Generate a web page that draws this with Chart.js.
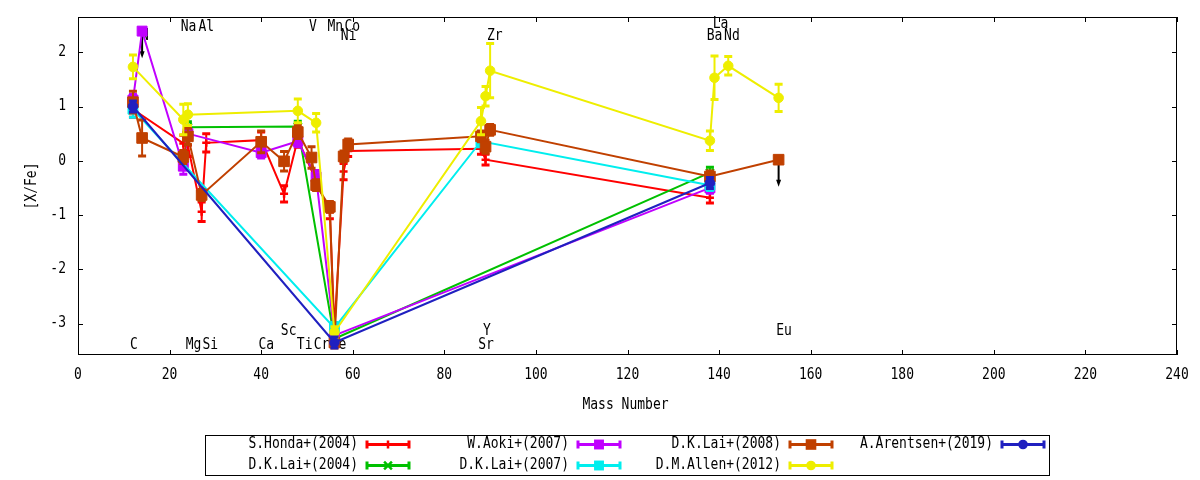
<!DOCTYPE html>
<html>
<head>
<meta charset="utf-8">
<title>[X/Fe] vs Mass Number</title>
<script src="https://cdn.jsdelivr.net/npm/chart.js@4.4.1/dist/chart.umd.min.js"></script>
<style>
  html, body { margin: 0; padding: 0; background: #fff; }
  #wrap { width: 1200px; height: 480px; }
</style>
</head>
<body>
<div id="wrap"><canvas id="abundChart" width="1200" height="480"></canvas></div>
<script>
// axis ticks
const X_TICKS = [0, 20, 40, 60, 80, 100, 120, 140, 160, 180, 200, 220, 240];
const Y_TICKS = [-3, -2, -1, 0, 1, 2];

// element names written in the plot (mass number, [X/Fe])
const ELEM_NAMES = ["C", "N", "Na", "Al", "V", "Mn", "Co", "Ni", "Zr", "La", "Ba", "Nd",
                    "Mg", "Si", "Ca", "Sc", "Ti", "Cr", "Fe", "Sr", "Y", "Eu"];
const ELEM_X = [12.2, 14.6, 24.15, 28.0, 51.3, 56.2, 59.9, 59.1, 91.0, 140.3, 139.0, 142.8,
                25.25, 28.9, 41.1, 46.0, 49.5, 53.2, 56.9, 89.1, 89.3, 154.2];
const ELEM_Y = [-3.39, 2.29, 2.47, 2.47, 2.47, 2.47, 2.47, 2.29, 2.29, 2.52, 2.29, 2.29,
                -3.39, -3.39, -3.39, -3.14, -3.39, -3.39, -3.39, -3.39, -3.14, -3.14];

// S.Honda+(2004)
const HONDA_MASS = [12, 23, 24, 27, 28, 40, 45, 48, 55, 56, 58, 59, 88, 89, 138];
const HONDA_XFE  = [0.95, 0.32, 0.28, -0.94, 0.33, 0.38, -0.61, 0.40, -0.95, -3.10, -0.20, 0.18, 0.22, 0.02, -0.68];
const HONDA_ERR  = [0.15, 0.15, 0.20, 0.18, 0.17, 0.15, 0.15, 0.15, 0.12, 0.10, 0.15, 0.10, 0.10, 0.10, 0.10];

// D.K.Lai+(2004)
const LAI04_MASS = [24, 48, 56, 138];
const LAI04_XFE  = [0.62, 0.63, -3.28, -0.22];
const LAI04_ERR  = [0.10, 0.10, 0.10, 0.10];

// W.Aoki+(2007)
const AOKI_MASS  = [12, 14, 23, 24, 40, 48, 52, 56, 138];
const AOKI_XFE   = [1.12, 2.39, -0.10, 0.50, 0.15, 0.36, -0.30, -3.22, -0.50];
const AOKI_ERR   = [0.10, 0, 0.15, 0.10, 0.10, 0.10, 0.12, 0.10, 0.10];
const AOKI_UPPER = [0, 1, 0, 0, 0, 0, 0, 0, 0];

// D.K.Lai+(2007)
const LAI07_MASS = [12, 56, 88, 138];
const LAI07_XFE  = [0.95, -3.08, 0.36, -0.45];
const LAI07_ERR  = [0.15, 0.10, 0.10, 0.10];

// D.K.Lai+(2008)
const LAI08_MASS  = [12, 14, 23, 24, 27, 40, 45, 48, 51, 52, 55, 56, 58, 59, 88, 89, 90, 138, 153];
const LAI08_XFE   = [1.08, 0.42, 0.07, 0.45, -0.63, 0.35, -0.01, 0.53, 0.06, -0.45, -0.85, -3.35, 0.08, 0.30, 0.45, 0.26, 0.57, -0.29, 0.02];
const LAI08_ERR   = [0.20, 0.33, 0.12, 0.15, 0.10, 0.20, 0.18, 0.12, 0.20, 0.10, 0.10, 0.10, 0.10, 0.10, 0.10, 0.12, 0.10, 0.10, 0];
const LAI08_UPPER = [0, 0, 0, 0, 0, 0, 0, 0, 0, 0, 0, 0, 0, 0, 0, 0, 0, 0, 1];

// D.M.Allen+(2012)
const ALLEN_MASS = [12, 23, 24, 48, 52, 56, 88, 89, 90, 138, 139, 142, 153];
const ALLEN_XFE  = [1.73, 0.76, 0.85, 0.92, 0.70, -3.16, 0.73, 1.19, 1.66, 0.37, 1.53, 1.75, 1.16];
const ALLEN_ERR  = [0.22, 0.28, 0.20, 0.22, 0.17, 0.10, 0.25, 0.18, 0.50, 0.18, 0.40, 0.17, 0.25];

// A.Arentsen+(2019)
const ARENTSEN_MASS = [12, 56, 138];
const ARENTSEN_XFE  = [1.00, -3.35, -0.41];
const ARENTSEN_ERR  = [0.10, 0.10, 0.10];

const TEXT_FONT = "13px 'DejaVu Sans Mono', monospace";
const TEXT_STRETCH = 1.15; // gnuplot's font is a bit taller than DejaVu Mono
const CAP = 4;             // half width of the error bar caps (px)
const ARROW_DROP = 0.5;    // length of the upper limit arrows (dex)

function series(label, mass, xfe, err, upper, color, style, radius) {
  const isCross = style === "cross" || style === "crossRot";
  return {
    label: label,
    data: mass.map((m, i) => ({ x: m, y: xfe[i] })),
    errors: err,
    upper: upper || [],
    showLine: true,
    borderColor: color,
    backgroundColor: color,
    borderWidth: 2,
    tension: 0,
    pointStyle: style,
    pointRadius: radius,
    pointHoverRadius: radius,
    pointBorderWidth: isCross ? 2.5 : 1,
    pointBorderColor: color,
    pointBackgroundColor: color
  };
}

const datasets = [
  series("S.Honda+(2004)", HONDA_MASS, HONDA_XFE, HONDA_ERR, null, "#ff0000", "cross", 4),
  series("D.K.Lai+(2004)", LAI04_MASS, LAI04_XFE, LAI04_ERR, null, "#00c000", "crossRot", 5.5),
  series("W.Aoki+(2007)", AOKI_MASS, AOKI_XFE, AOKI_ERR, AOKI_UPPER, "#c000ff", "rect", 7),
  series("D.K.Lai+(2007)", LAI07_MASS, LAI07_XFE, LAI07_ERR, null, "#00eeee", "rect", 7),
  series("D.K.Lai+(2008)", LAI08_MASS, LAI08_XFE, LAI08_ERR, LAI08_UPPER, "#c04000", "rect", 7.5),
  series("D.M.Allen+(2012)", ALLEN_MASS, ALLEN_XFE, ALLEN_ERR, null, "#eeee00", "circle", 4.8),
  series("A.Arentsen+(2019)", ARENTSEN_MASS, ARENTSEN_XFE, ARENTSEN_ERR, null, "#2020c0", "circle", 4.8)
];
// later series are drawn on top, like gnuplot does
datasets.forEach((d, i) => { d.order = datasets.length - i; });

function tallText(ctx, text, x, y) {
  ctx.save();
  ctx.translate(x, y);
  ctx.scale(1, TEXT_STRETCH);
  ctx.fillText(text, 0, 0);
  ctx.restore();
}

function drawMarker(ctx, style, r, x, y) {
  ctx.beginPath();
  if (style === "circle") {
    ctx.arc(x, y, r, 0, Math.PI * 2);
    ctx.fill();
  } else if (style === "rect") {
    const s = r / Math.SQRT2;
    ctx.fillRect(x - s, y - s, 2 * s, 2 * s);
  } else if (style === "cross") {
    ctx.moveTo(x - r, y); ctx.lineTo(x + r, y);
    ctx.moveTo(x, y - r); ctx.lineTo(x, y + r);
    ctx.stroke();
  } else if (style === "crossRot") {
    const s = r / Math.SQRT2;
    ctx.moveTo(x - s, y - s); ctx.lineTo(x + s, y + s);
    ctx.moveTo(x - s, y + s); ctx.lineTo(x + s, y - s);
    ctx.stroke();
  }
}

// error bars and upper limit arrows, drawn just under each series
const errorBars = {
  id: "errorBars",
  beforeDatasetDraw(chart, args) {
    const ds = chart.data.datasets[args.index];
    const ctx = chart.ctx, xs = chart.scales.x, ys = chart.scales.y;
    ctx.save();
    ctx.strokeStyle = ds.borderColor;
    ds.data.forEach((p, i) => {
      const e = ds.errors[i];
      if (!e) return;
      const px = xs.getPixelForValue(p.x);
      const top = ys.getPixelForValue(p.y + e);
      const bot = ys.getPixelForValue(p.y - e);
      ctx.lineWidth = 2;
      ctx.beginPath();
      ctx.moveTo(px, top); ctx.lineTo(px, bot);
      ctx.stroke();
      ctx.lineWidth = 3;
      ctx.beginPath();
      ctx.moveTo(px - CAP, top); ctx.lineTo(px + CAP, top);
      ctx.moveTo(px - CAP, bot); ctx.lineTo(px + CAP, bot);
      ctx.stroke();
    });
    ctx.strokeStyle = "#000";
    ctx.fillStyle = "#000";
    ds.data.forEach((p, i) => {
      if (!ds.upper[i]) return;
      const px = xs.getPixelForValue(p.x);
      const y0 = ys.getPixelForValue(p.y);
      const y1 = ys.getPixelForValue(p.y - ARROW_DROP);
      ctx.lineWidth = 2;
      ctx.beginPath();
      ctx.moveTo(px, y0); ctx.lineTo(px, y1 - 5);
      ctx.stroke();
      ctx.beginPath();
      ctx.moveTo(px - 2.5, y1 - 7); ctx.lineTo(px + 2.5, y1 - 7); ctx.lineTo(px, y1);
      ctx.closePath();
      ctx.fill();
    });
    ctx.restore();
  }
};

// frame with inward ticks on all sides, tick labels, element names, titles, legend
const frameAndLabels = {
  id: "frameAndLabels",
  beforeDatasetsDraw(chart) {
    const ctx = chart.ctx, a = chart.chartArea, xs = chart.scales.x, ys = chart.scales.y;
    ctx.save();
    ctx.font = TEXT_FONT;
    ctx.fillStyle = "#000";
    ctx.textBaseline = "middle";

    ctx.textAlign = "center";
    ELEM_NAMES.forEach((n, i) => {
      tallText(ctx, n, xs.getPixelForValue(ELEM_X[i]), ys.getPixelForValue(ELEM_Y[i]));
    });
    X_TICKS.forEach(v => tallText(ctx, String(v), xs.getPixelForValue(v), a.bottom + 20));
    ctx.textAlign = "right";
    Y_TICKS.forEach(v => tallText(ctx, String(v), a.left - 12, ys.getPixelForValue(v)));

    ctx.strokeStyle = "#000";
    ctx.lineWidth = 1;
    ctx.strokeRect(a.left + 0.5, a.top + 0.5, a.right - a.left - 1, a.bottom - a.top - 1);
    ctx.beginPath();
    X_TICKS.forEach(v => {
      const px = Math.round(xs.getPixelForValue(v)) + 0.5;
      ctx.moveTo(px, a.bottom); ctx.lineTo(px, a.bottom - 5);
      ctx.moveTo(px, a.top); ctx.lineTo(px, a.top + 5);
    });
    Y_TICKS.forEach(v => {
      const py = Math.round(ys.getPixelForValue(v)) + 0.5;
      ctx.moveTo(a.left, py); ctx.lineTo(a.left + 5, py);
      ctx.moveTo(a.right, py); ctx.lineTo(a.right - 5, py);
    });
    ctx.stroke();
    ctx.restore();
  },
  afterDraw(chart) {
    const ctx = chart.ctx, a = chart.chartArea;
    ctx.save();
    ctx.font = TEXT_FONT;
    ctx.fillStyle = "#000";
    ctx.textBaseline = "middle";

    // axis titles
    ctx.textAlign = "center";
    tallText(ctx, "Mass Number", (a.left + a.right) / 2 - 2, 405);
    ctx.save();
    ctx.translate(32, (a.top + a.bottom) / 2);
    ctx.rotate(-Math.PI / 2);
    tallText(ctx, "[X/Fe]", 0, 0);
    ctx.restore();

    // legend box, filled column by column
    ctx.strokeStyle = "#000";
    ctx.lineWidth = 1;
    ctx.strokeRect(205.5, 435.5, 844, 40);
    const textRight = [358, 569, 781, 993];
    const rowY = [444.5, 465.5];
    chart.data.datasets.forEach((ds, i) => {
      const col = Math.floor(i / 2), row = i % 2;
      const tx = textRight[col], ty = rowY[row];
      ctx.fillStyle = "#000";
      ctx.textAlign = "right";
      tallText(ctx, ds.label, tx, ty);
      const x0 = tx + 8, x1 = tx + 52, xm = (x0 + x1) / 2;
      ctx.strokeStyle = ds.borderColor;
      ctx.fillStyle = ds.borderColor;
      ctx.lineWidth = 3;
      ctx.beginPath();
      ctx.moveTo(x0, ty); ctx.lineTo(x1, ty);
      ctx.moveTo(x0 + 1, ty - 4); ctx.lineTo(x0 + 1, ty + 4);
      ctx.moveTo(x1 - 1, ty - 4); ctx.lineTo(x1 - 1, ty + 4);
      ctx.stroke();
      ctx.lineWidth = ds.pointBorderWidth;
      drawMarker(ctx, ds.pointStyle, ds.pointRadius, xm, ty);
    });
    ctx.restore();
  }
};

Chart.defaults.font.family = "'DejaVu Sans Mono', monospace";
Chart.defaults.font.size = 13;
Chart.defaults.color = "#000";

new Chart(document.getElementById("abundChart"), {
  type: "scatter",
  data: { datasets: datasets },
  options: {
    responsive: false,
    animation: false,
    devicePixelRatio: 1,
    events: [],
    layout: { padding: { top: 17, right: 23, left: 0, bottom: 0 } },
    plugins: {
      legend: { display: false },
      tooltip: { enabled: false }
    },
    scales: {
      x: {
        type: "linear",
        min: 0,
        max: 240,
        afterBuildTicks: s => { s.ticks = X_TICKS.map(v => ({ value: v })); },
        afterFit: s => { s.height = 125; },
        grid: { display: false, drawTicks: false },
        border: { display: false },
        ticks: { display: false }
      },
      y: {
        type: "linear",
        min: -3.58,
        max: 2.65,
        afterBuildTicks: s => { s.ticks = Y_TICKS.map(v => ({ value: v })); },
        afterFit: s => { s.width = 78; },
        grid: { display: false, drawTicks: false },
        border: { display: false },
        ticks: { display: false }
      }
    }
  },
  plugins: [frameAndLabels, errorBars]
});
</script>
</body>
</html>
